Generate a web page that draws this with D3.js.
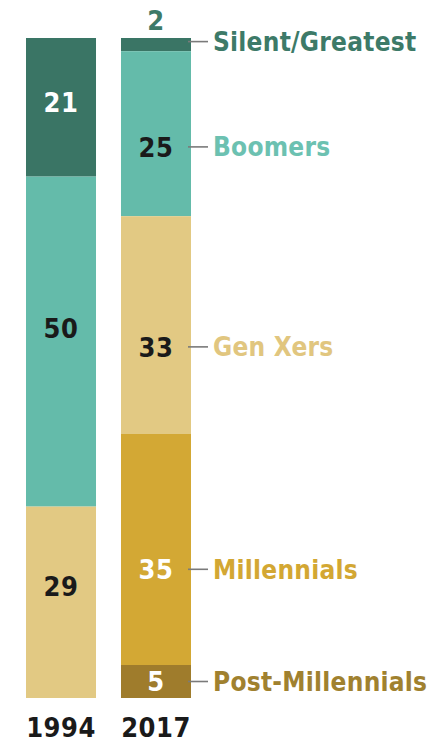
<!DOCTYPE html>
<html><head><meta charset="utf-8">
<script src="https://cdn.jsdelivr.net/npm/d3@7"></script>
<style>body{margin:0;background:#fff}svg{display:block}</style>
</head><body><svg id="c" width="433" height="742"></svg>
<script>
const years = ["1994", "2017"];
const generations = ["Silent/Greatest", "Boomers", "Gen Xers", "Millennials", "Post-Millennials"];
const values1994 = [21, 50, 29, 0, 0];
const values2017 = [2, 25, 33, 35, 5];
const fills = ["#3a7565", "#64bbaa", "#e2c983", "#d3a834", "#9f7c2c"];
const labelColors = ["#3d7a68", "#6cc1b1", "#e1c67f", "#d3a733", "#a0812f"];
const valueColors = ["#fff", "#1a1a1a", "#1a1a1a", "#fff", "#fff"];

const font = "'DejaVu Sans Condensed','Liberation Sans Narrow',sans-serif";
const svg = d3.select("#c");
const x = d3.scaleBand().domain(years).range([26, 191]).paddingInner(0.263);
const y = d3.scaleLinear().domain([0, 100]).range([38, 698]);

const series = [values1994, values2017];
const stacked = years.map((yr, i) => {
  let acc = 0;
  return generations.map((g, j) => {
    const v = series[i][j];
    const d = {year: yr, gen: g, j, v, y0: acc, y1: acc + v};
    acc += v; return d;
  }).filter(d => d.v > 0);
});
const all = stacked.flat();

svg.selectAll("rect.seg").data(all).join("rect")
  .attr("x", d => x(d.year)).attr("width", x.bandwidth())
  .attr("y", d => y(d.y0)).attr("height", d => y(d.y1) - y(d.y0))
  .attr("fill", d => fills[d.j]);

// label nudges in value units (readability placement)
const nudge = {"1994": [-0.7, -2, -2.5], "2017": [0, 2, 3.3, 3, 0]};
svg.selectAll("text.val").data(all).join("text")
  .attr("x", d => x(d.year) + x.bandwidth() / 2)
  .attr("y", d => d.v < 3 ? y(d.y0) - 18 : y((d.y0 + d.y1) / 2 + nudge[d.year][d.j]))
  .attr("dy", "0.36em")
  .attr("text-anchor", "middle")
  .attr("font-family", font).attr("font-weight", "bold").attr("font-size", 27)
  .attr("letter-spacing", 0.5)
  .attr("fill", d => d.v < 3 ? labelColors[d.j] : valueColors[d.j])
  .text(d => d.v);

const last = stacked[1];
const labY = d => d.v < 3 ? y((d.y0 + d.y1) / 2) - 3 : y((d.y0 + d.y1) / 2 + nudge["2017"][d.j]);
svg.selectAll("line.con").data(last).join("line")
  .attr("x1", x("2017") + x.bandwidth() - 3).attr("x2", x("2017") + x.bandwidth() + 17)
  .attr("y1", labY).attr("y2", labY)
  .attr("stroke", "#7a7a7a").attr("stroke-width", 1.6);
svg.selectAll("text.gen").data(last).join("text")
  .attr("x", x("2017") + x.bandwidth() + 22)
  .attr("y", labY).attr("dy", "0.36em")
  .attr("font-family", font).attr("font-weight", "bold").attr("font-size", 26)
  .attr("letter-spacing", 0.25)
  .attr("fill", d => labelColors[d.j])
  .text(d => d.gen);

const xAxis = svg.append("g").attr("transform", "translate(0,737)")
  .call(d3.axisBottom(x).tickSize(0).tickPadding(0));
xAxis.select(".domain").remove();
xAxis.selectAll("text").attr("dy", 0).attr("font-family", font).attr("font-weight", "bold")
  .attr("font-size", 27).attr("letter-spacing", 0.5).attr("fill", "#1a1a1a");
</script></body></html>
